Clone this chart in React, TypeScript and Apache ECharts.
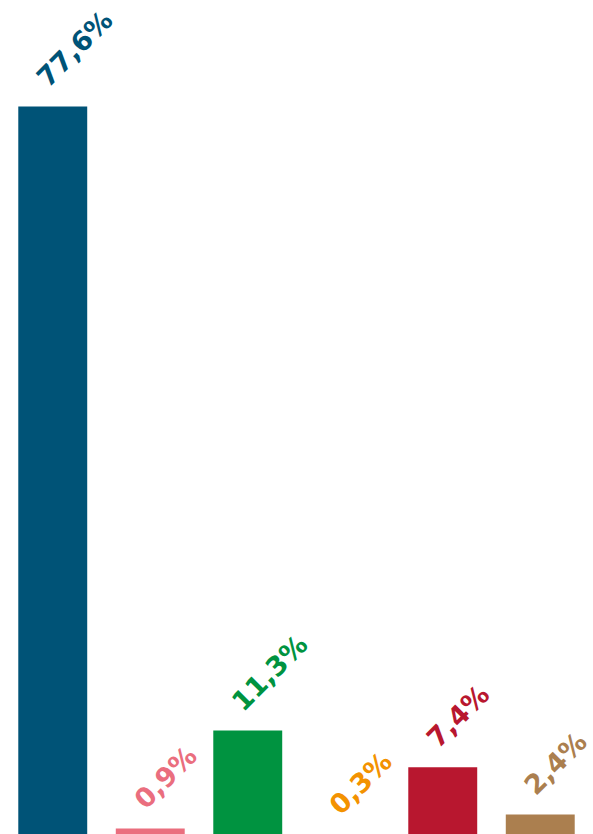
import React, { useEffect, useRef } from "react";
import * as echarts from "echarts";

const categories = ["A", "B", "C", "D", "E", "F"];
const values = [77.6, 0.9, 11.3, 0.3, 7.4, 2.4];
const colors = ["#005377", "#ea6e7e", "#009340", "#f39200", "#b8172f", "#ab7f4f"];

export default function App() {
  const ref = useRef<HTMLDivElement>(null);
  useEffect(() => {
    if (!ref.current) return;
    const chart = echarts.init(ref.current, null, { renderer: "svg" });
    chart.setOption({
      animation: false,
      backgroundColor: "#ffffff",
      grid: {
        left: 4,
        right: 4,
        top: 0,
        height: 837,
        containLabel: false,
        outerBoundsMode: "none",
      },
      xAxis: {
        type: "category",
        data: categories,
        show: false,
      },
      yAxis: {
        type: "value",
        min: 0,
        max: 88.9,
        show: false,
        splitLine: { show: false },
      },
      series: [
        {
          type: "bar",
          barWidth: "70.7%",
          data: values.map((v, i) => ({
            value: v,
            itemStyle: { color: colors[i] },
            label: { color: colors[i] },
          })),
          label: {
            show: true,
            position: "top",
            distance: 36,
            rotate: 45,
            align: "left",
            verticalAlign: "middle",
            fontFamily: "DejaVu Sans",
            fontWeight: "bold",
            fontSize: 27,
            offset: [-16, 0],
            formatter: (p: any) => p.value.toFixed(1).replace(".", ",") + "%",
          },
        },
      ],
    });
    return () => chart.dispose();
  }, []);
  return (
    <div
      ref={ref}
      style={{ position: "fixed", left: 0, top: 0, width: 593, height: 834 }}
    />
  );
}
